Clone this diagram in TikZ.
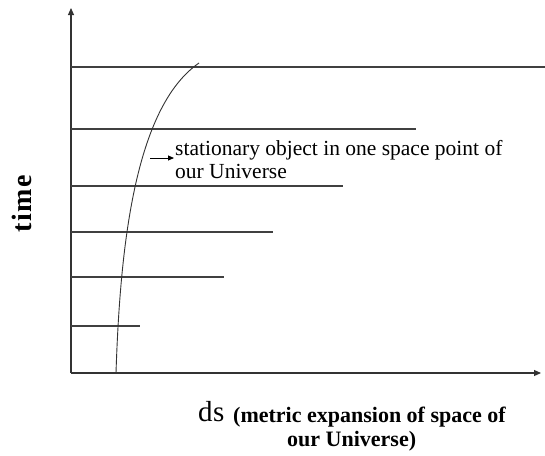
\documentclass[tikz,border=0pt]{standalone}
\usepackage{fontspec}
\setmainfont{Liberation Serif}
\usetikzlibrary{arrows.meta}
\begin{document}
\begin{tikzpicture}[x=1pt,y=-1pt,
  axis/.style={line width=1.1pt,draw=black!80,-{Triangle[length=7pt,width=6pt]}},
  hline/.style={line width=1.1pt,draw=black!75},
  lbl/.style={inner sep=0pt,anchor=base west,font=\fontsize{21.5}{24}\selectfont},
  cap2/.style={inner sep=0pt,anchor=base west,font=\bfseries\fontsize{22}{24}\selectfont}]
\useasboundingbox (0,0) rectangle (545,455);
\coordinate (o) at (71,373);
\coordinate (ytop) at (71,8);
\coordinate (xend) at (541,373);
\draw[axis] (o) -- (ytop);
\draw[axis] (o) -- (xend);
\foreach \y/\x [count=\i] in {67/545,129/416,186/343,232/273,277/224,326/140}{
  \coordinate (l\i a) at (71,\y);
  \coordinate (l\i b) at (\x,\y);
  \draw[hline] (l\i a) -- (l\i b);
}
\coordinate (c0) at (116,373);
\coordinate (c1) at (199,63);
\draw[line width=0.9pt,draw=black!80] (c0) .. controls (120,250) and (134,108) .. (c1);
\node[lbl] (t1) at (175,155) {stationary object in one space point of};
\node[lbl] (t2) at (175,178) {our Universe};
\coordinate (as) at (150,158);
\draw[line width=0.9pt,-{Triangle[length=6pt,width=5pt]}] (as) -- ([xshift=-1pt]t1.west |- as);
\node[rotate=90,font=\bfseries\fontsize{28}{30}\selectfont] (time) at (22,204) {t\kern1.5pt i\kern1.5pt m\kern1.5pt e};
\node[inner sep=0pt,anchor=base west,font=\fontsize{29}{32}\selectfont] (ds) at (198,421) {d\kern0.5pt s};
\node[cap2] (m1) at (233,422) {(metric expansion of space of};
\node[cap2] (m2) at (287,446) {our Universe)};
\end{tikzpicture}
\end{document}
